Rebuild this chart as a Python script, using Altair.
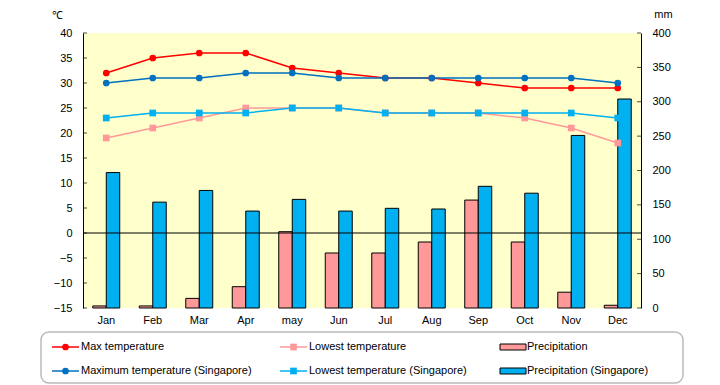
import altair as alt
import pandas as pd

months = ["Jan", "Feb", "Mar", "Apr", "may", "Jun", "Jul", "Aug", "Sep", "Oct", "Nov", "Dec"]

max_temp = [32, 35, 36, 36, 33, 32, 31, 31, 30, 29, 29, 29]
low_temp = [19, 21, 23, 25, 25, 25, 24, 24, 24, 23, 21, 18]
max_sg = [30, 31, 31, 32, 32, 31, 31, 31, 31, 31, 31, 30]
low_sg = [23, 24, 24, 24, 25, 25, 24, 24, 24, 24, 24, 23]
precip = [3, 3, 14, 31, 111, 80, 80, 96, 157, 96, 23, 4]
precip_sg = [197, 154, 171, 141, 158, 141, 145, 144, 177, 167, 251, 304]

temp_ticks = [-15, -10, -5, 0, 5, 10, 15, 20, 25, 30, 35, 40]
mm_ticks = [0, 50, 100, 150, 200, 250, 300, 350, 400]

temp_series = ["Max temperature", "Lowest temperature",
               "Maximum temperature (Singapore)", "Lowest temperature (Singapore)"]
temp_colors = ["#FF0000", "#FF9999", "#0070C0", "#00B0F0"]
temp_shapes = ["circle", "square", "circle", "square"]
precip_series = ["Precipitation", "Precipitation (Singapore)"]
precip_colors = ["#FF9999", "#00B0F0"]

FONT = "Liberation Sans"
W, H = 558, 275

rows = []
for s, vals in zip(temp_series, [max_temp, low_temp, max_sg, low_sg]):
    for m, v in zip(months, vals):
        rows.append({"month": m, "series": s, "temp": v})
temp_df = pd.DataFrame(rows)

prow = []
for s, vals in zip(precip_series, [precip, precip_sg]):
    for m, v in zip(months, vals):
        prow.append({"month": m, "series": s, "mm": v})
precip_df = pd.DataFrame(prow)

x_enc = alt.X(
    "month:N", sort=months,
    scale=alt.Scale(domain=months, paddingInner=0.42, paddingOuter=0.21),
    axis=alt.Axis(title=None, labelAngle=0, ticks=False, domain=False,
                  labelFont=FONT, labelFontSize=11, labelColor="black", labelPadding=6),
)

y_mm = alt.Y(
    "mm:Q", scale=alt.Scale(domain=[0, 400], nice=False),
    axis=alt.Axis(orient="right", values=mm_ticks, title="mm", titleAngle=0,
                  titleX=22, titleY=-19, titleAlign="center", titleBaseline="middle",
                  titleFont=FONT, titleFontSize=11, titleFontWeight="normal", titleColor="black",
                  ticks=False, grid=False, domainColor="black", domainWidth=1,
                  labelFont=FONT, labelFontSize=11, labelColor="black", labelPadding=11),
)

y_temp = alt.Y(
    "temp:Q", scale=alt.Scale(domain=[-15, 40], nice=False),
    axis=alt.Axis(values=temp_ticks, title="℃", titleAngle=0,
                  titleX=-26, titleY=-18, titleAlign="center", titleBaseline="middle",
                  titleFont=FONT, titleFontSize=11, titleFontWeight="normal", titleColor="black",
                  ticks=False, grid=False, domainColor="black", domainWidth=1,
                  labelFont=FONT, labelFontSize=11, labelColor="black", labelPadding=11),
)

bars = alt.Chart(precip_df).mark_bar(stroke="black", strokeWidth=1).encode(
    x=x_enc,
    xOffset=alt.XOffset("series:N", sort=precip_series,
                        scale=alt.Scale(domain=precip_series, paddingInner=0, paddingOuter=0)),
    y=y_mm,
    color=alt.Color("series:N", scale=alt.Scale(domain=precip_series, range=precip_colors), legend=None),
)
right_ticks = alt.Chart(pd.DataFrame({"mm": mm_ticks})).mark_tick(
    color="black", size=4, thickness=1).encode(y=y_mm, x=alt.value(W - 2))
bars_group = alt.layer(bars, right_ticks)

zero = alt.Chart(pd.DataFrame({"temp": [0]})).mark_rule(color="black", strokeWidth=1).encode(y=y_temp)
left_ticks = alt.Chart(pd.DataFrame({"temp": temp_ticks})).mark_tick(
    color="black", size=4, thickness=1).encode(y=y_temp, x=alt.value(2))
color_t = alt.Color("series:N", scale=alt.Scale(domain=temp_series, range=temp_colors), legend=None)
lines = alt.Chart(temp_df).mark_line(interpolate="linear", strokeWidth=1.5).encode(
    x=x_enc, y=y_temp, color=color_t)
points = alt.Chart(temp_df).mark_point(filled=True, size=45, opacity=1).encode(
    x=x_enc, y=y_temp, color=color_t,
    shape=alt.Shape("series:N", scale=alt.Scale(domain=temp_series, range=temp_shapes), legend=None))
temp_group = alt.layer(zero, left_ticks, lines, points)

# legend (drawn below the plot)
one = pd.DataFrame({"k": [0]})
legend_layers = [
    alt.Chart(one).mark_rect(fill="white", fillOpacity=0, stroke="#BBBBBB", strokeWidth=1.5,
                             cornerRadius=8).encode(
        x=alt.value(-42), x2=alt.value(600), y=alt.value(299), y2=alt.value(350))
]
col_x = [-31, 197, 417]
row_y = [314, 338]
line_items = [(temp_series[0], temp_colors[0], temp_shapes[0], 0, 0),
              (temp_series[2], temp_colors[2], temp_shapes[2], 0, 1),
              (temp_series[1], temp_colors[1], temp_shapes[1], 1, 0),
              (temp_series[3], temp_colors[3], temp_shapes[3], 1, 1)]
for label, col, shp, c, r in line_items:
    lx, ry = col_x[c], row_y[r]
    legend_layers.append(alt.Chart(one).mark_rule(color=col, strokeWidth=1.5).encode(
        x=alt.value(lx), x2=alt.value(lx + 27), y=alt.value(ry)))
    legend_layers.append(alt.Chart(one).mark_point(filled=True, size=45, opacity=1, color=col,
                                                   shape=shp).encode(
        x=alt.value(lx + 13.5), y=alt.value(ry)))
    legend_layers.append(alt.Chart(one).mark_text(align="left", baseline="middle", font=FONT,
                                                  fontSize=11, color="black").encode(
        x=alt.value(lx + 29), y=alt.value(ry), text=alt.value(label)))
for r, (label, col) in enumerate(zip(precip_series, precip_colors)):
    lx, ry = col_x[2], row_y[r]
    legend_layers.append(alt.Chart(one).mark_rect(fill=col, stroke="black", strokeWidth=1).encode(
        x=alt.value(lx), x2=alt.value(lx + 26), y=alt.value(ry - 3), y2=alt.value(ry + 3)))
    legend_layers.append(alt.Chart(one).mark_text(align="left", baseline="middle", font=FONT,
                                                  fontSize=11, color="black").encode(
        x=alt.value(lx + 27), y=alt.value(ry), text=alt.value(label)))

chart = alt.layer(bars_group, temp_group, *legend_layers).resolve_scale(
    y="independent", color="independent", shape="independent"
).properties(
    width=W, height=H,
    autosize=alt.AutoSizeParams(type="none"),
    padding={"left": 75, "top": 25, "right": 71, "bottom": 77},
    background="white",
).configure_view(fill="#FFFFCC", stroke=None)

chart.save("out.html", embed_options={"renderer": "svg", "actions": False})
